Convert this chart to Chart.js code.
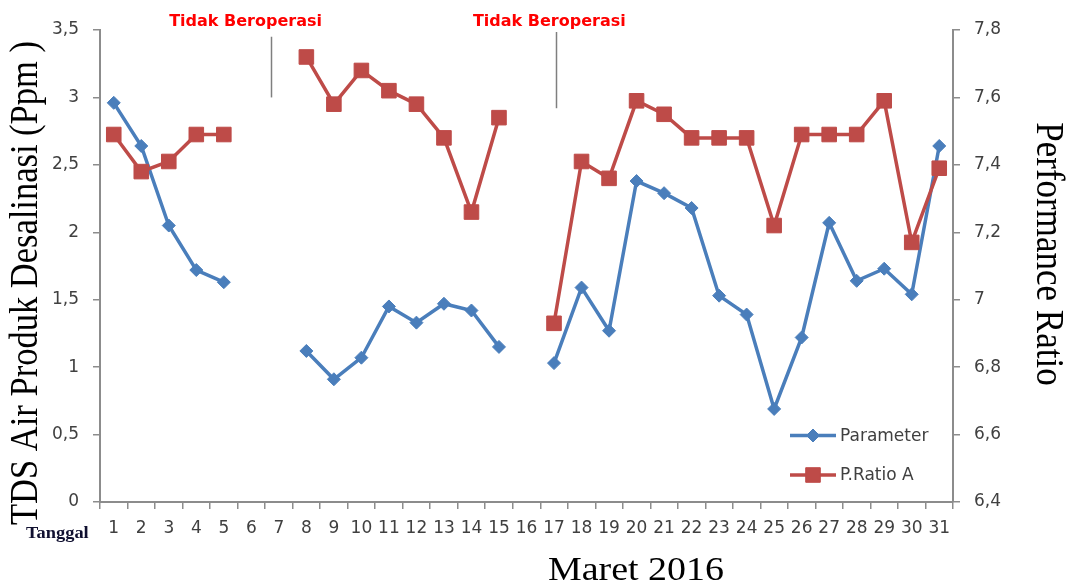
<!DOCTYPE html>
<html>
<head>
<meta charset="utf-8">
<script src="https://cdn.jsdelivr.net/npm/chart.js@4.4.1/dist/chart.umd.min.js"></script>
<style>
  html, body { margin: 0; padding: 0; background: #fff; }
  #chart { display: block; }
</style>
</head>
<body>
<canvas id="chart" width="1070" height="586"></canvas>
<script>
// tanggal (Maret 2016)
const days = ['1','2','3','4','5','6','7','8','9','10','11','12','13','14','15','16',
  '17','18','19','20','21','22','23','24','25','26','27','28','29','30','31'];

// TDS air produk (ppm) - sumbu kiri
const tdsParameter = [2.96, 2.64, 2.05, 1.72, 1.63, null, null, 1.12, 0.91, 1.07, 1.45, 1.33, 1.47, 1.42, 1.15, null,
  1.03, 1.59, 1.27, 2.38, 2.29, 2.18, 1.53, 1.39, 0.69, 1.22, 2.07, 1.64, 1.73, 1.54, 2.64];

// performance ratio - sumbu kanan
const pRatioA = [7.49, 7.38, 7.41, 7.49, 7.49, null, null, 7.72, 7.58, 7.68, 7.62, 7.58, 7.48, 7.26, 7.54, null,
  6.93, 7.41, 7.36, 7.59, 7.55, 7.48, 7.48, 7.48, 7.22, 7.49, 7.49, 7.49, 7.59, 7.17, 7.39];

const leftMin = 0, leftMax = 3.5, leftStep = 0.5;
const rightMin = 6.4, rightMax = 7.8, rightStep = 0.2;

// "Tidak Beroperasi" notes: text centre (category index), marker line index and its span on the left axis
const notes = [
  { text: 'Tidak Beroperasi', at: 4.79, lineAt: 5.70, from: 3.45, to: 3.0 },
  { text: 'Tidak Beroperasi', at: 15.83, lineAt: 16.07, from: 3.485, to: 2.92 }
];

const BLUE = '#4A7EBB';
const RED = '#BE4B48';
const AXIS = '#8c8c8c';
const TICK_TXT = '#404040';
const STRETCH = 1.15; // source picture is a bit wider than tall

function fmt(v){
  return String(Number(v.toFixed(1))).replace('.', ',');
}

const extras = {
  id: 'extras',
  afterDraw(chart){
    const ctx = chart.ctx;
    const x = chart.scales.x, y = chart.scales.y;

    // notes on top
    notes.forEach(n => {
      ctx.save();
      ctx.fillStyle = '#ff0000';
      ctx.font = 'bold 16px "DejaVu Sans"';
      ctx.textAlign = 'center';
      ctx.textBaseline = 'alphabetic';
      ctx.fillText(n.text, x.getPixelForValue(n.at), 26);
      ctx.strokeStyle = '#7f7f7f';
      ctx.lineWidth = 1.5;
      const lx = Math.round(x.getPixelForValue(n.lineAt)) + 0.5;
      ctx.beginPath();
      ctx.moveTo(lx, y.getPixelForValue(n.from));
      ctx.lineTo(lx, y.getPixelForValue(n.to));
      ctx.stroke();
      ctx.restore();
    });

    // axis titles
    ctx.save();
    ctx.fillStyle = '#000';
    ctx.font = '34.5px "Liberation Serif"';
    ctx.textAlign = 'center';
    ctx.textBaseline = 'alphabetic';
    ctx.translate(36.5, 283);
    ctx.scale(STRETCH, 1);
    ctx.rotate(-Math.PI / 2);
    ctx.fillText('TDS Air Produk Desalinasi (Ppm )', 0, 0);
    ctx.restore();

    ctx.save();
    ctx.fillStyle = '#000';
    ctx.font = '35px "Liberation Serif"';
    ctx.textAlign = 'center';
    ctx.textBaseline = 'alphabetic';
    ctx.translate(1037, 254);
    ctx.scale(STRETCH, 1);
    ctx.rotate(Math.PI / 2);
    ctx.fillText('Performance Ratio', 0, 0);
    ctx.restore();

    ctx.save();
    ctx.fillStyle = '#000';
    ctx.font = '33px "Liberation Serif"';
    ctx.textAlign = 'center';
    ctx.translate(636, 580);
    ctx.scale(STRETCH, 1);
    ctx.fillText('Maret 2016', 0, 0);
    ctx.restore();

    ctx.save();
    ctx.fillStyle = '#101030';
    ctx.font = 'bold 16px "Liberation Serif"';
    ctx.textAlign = 'left';
    ctx.translate(26, 538);
    ctx.scale(STRETCH, 1);
    ctx.fillText('Tanggal', 0, 0);
    ctx.restore();

    // legend
    const rows = [435.5, 475];
    chart.data.datasets.forEach((d, i) => {
      const ly = rows[i];
      ctx.save();
      ctx.strokeStyle = d.borderColor;
      ctx.lineWidth = d.borderWidth;
      ctx.beginPath();
      ctx.moveTo(790, ly);
      ctx.lineTo(836, ly);
      ctx.stroke();
      ctx.fillStyle = d.pointBackgroundColor;
      ctx.strokeStyle = d.pointBorderColor;
      ctx.lineWidth = 1;
      Chart.helpers.drawPoint(ctx, { pointStyle: d.pointStyle, radius: d.pointRadius, rotation: 0, borderWidth: 1 }, 813, ly);
      ctx.fillStyle = TICK_TXT;
      ctx.font = '17px "DejaVu Sans"';
      ctx.textAlign = 'left';
      ctx.textBaseline = 'middle';
      ctx.fillText(d.label, 840, ly + 1);
      ctx.restore();
    });
  }
};

const ctx = document.getElementById('chart').getContext('2d');
new Chart(ctx, {
  type: 'line',
  data: {
    labels: days,
    datasets: [
      { label: 'Parameter', data: tdsParameter, yAxisID: 'y', order: 1,
        borderColor: BLUE, backgroundColor: BLUE, borderWidth: 3.5,
        pointStyle: 'rectRot', pointRadius: 6.5, pointBackgroundColor: BLUE, pointBorderColor: BLUE, pointBorderWidth: 1,
        spanGaps: false, tension: 0, clip: false },
      { label: 'P.Ratio A', data: pRatioA, yAxisID: 'y2', order: 0,
        borderColor: RED, backgroundColor: RED, borderWidth: 3.5,
        pointStyle: 'rect', pointRadius: 10.3, pointBackgroundColor: RED, pointBorderColor: RED, pointBorderWidth: 1,
        spanGaps: false, tension: 0, clip: false }
    ]
  },
  options: {
    responsive: false,
    animation: false,
    devicePixelRatio: 1,
    layout: { padding: { top: 30, left: 0, right: 0, bottom: 0 } },
    plugins: { legend: { display: false }, tooltip: { enabled: false } },
    scales: {
      x: {
        type: 'category',
        offset: true,
        grid: { display: true, drawOnChartArea: false, drawTicks: true, tickLength: 7, color: AXIS, lineWidth: 1.5, offset: true },
        border: { display: true, color: AXIS, width: 2 },
        ticks: { color: TICK_TXT, font: { family: 'DejaVu Sans', size: 17 }, padding: 9, maxRotation: 0, autoSkip: false },
        afterFit(scale){ scale.height = 84; }
      },
      y: {
        position: 'left',
        min: leftMin, max: leftMax,
        grid: { display: true, drawOnChartArea: false, drawTicks: true, tickLength: 7, color: AXIS, lineWidth: 1.5 },
        border: { display: true, color: AXIS, width: 2 },
        ticks: { stepSize: leftStep, color: TICK_TXT, font: { family: 'DejaVu Sans', size: 17 }, padding: 14, callback: v => fmt(v) },
        afterFit(scale){ scale.width = 100; }
      },
      y2: {
        position: 'right',
        min: rightMin, max: rightMax,
        grid: { display: true, drawOnChartArea: false, drawTicks: true, tickLength: 7, color: AXIS, lineWidth: 1.5 },
        border: { display: true, color: AXIS, width: 2 },
        ticks: { stepSize: rightStep, color: TICK_TXT, font: { family: 'DejaVu Sans', size: 17 }, padding: 14, callback: v => fmt(v) },
        afterFit(scale){ scale.width = 117; }
      }
    }
  },
  plugins: [extras]
});
</script>
</body>
</html>
